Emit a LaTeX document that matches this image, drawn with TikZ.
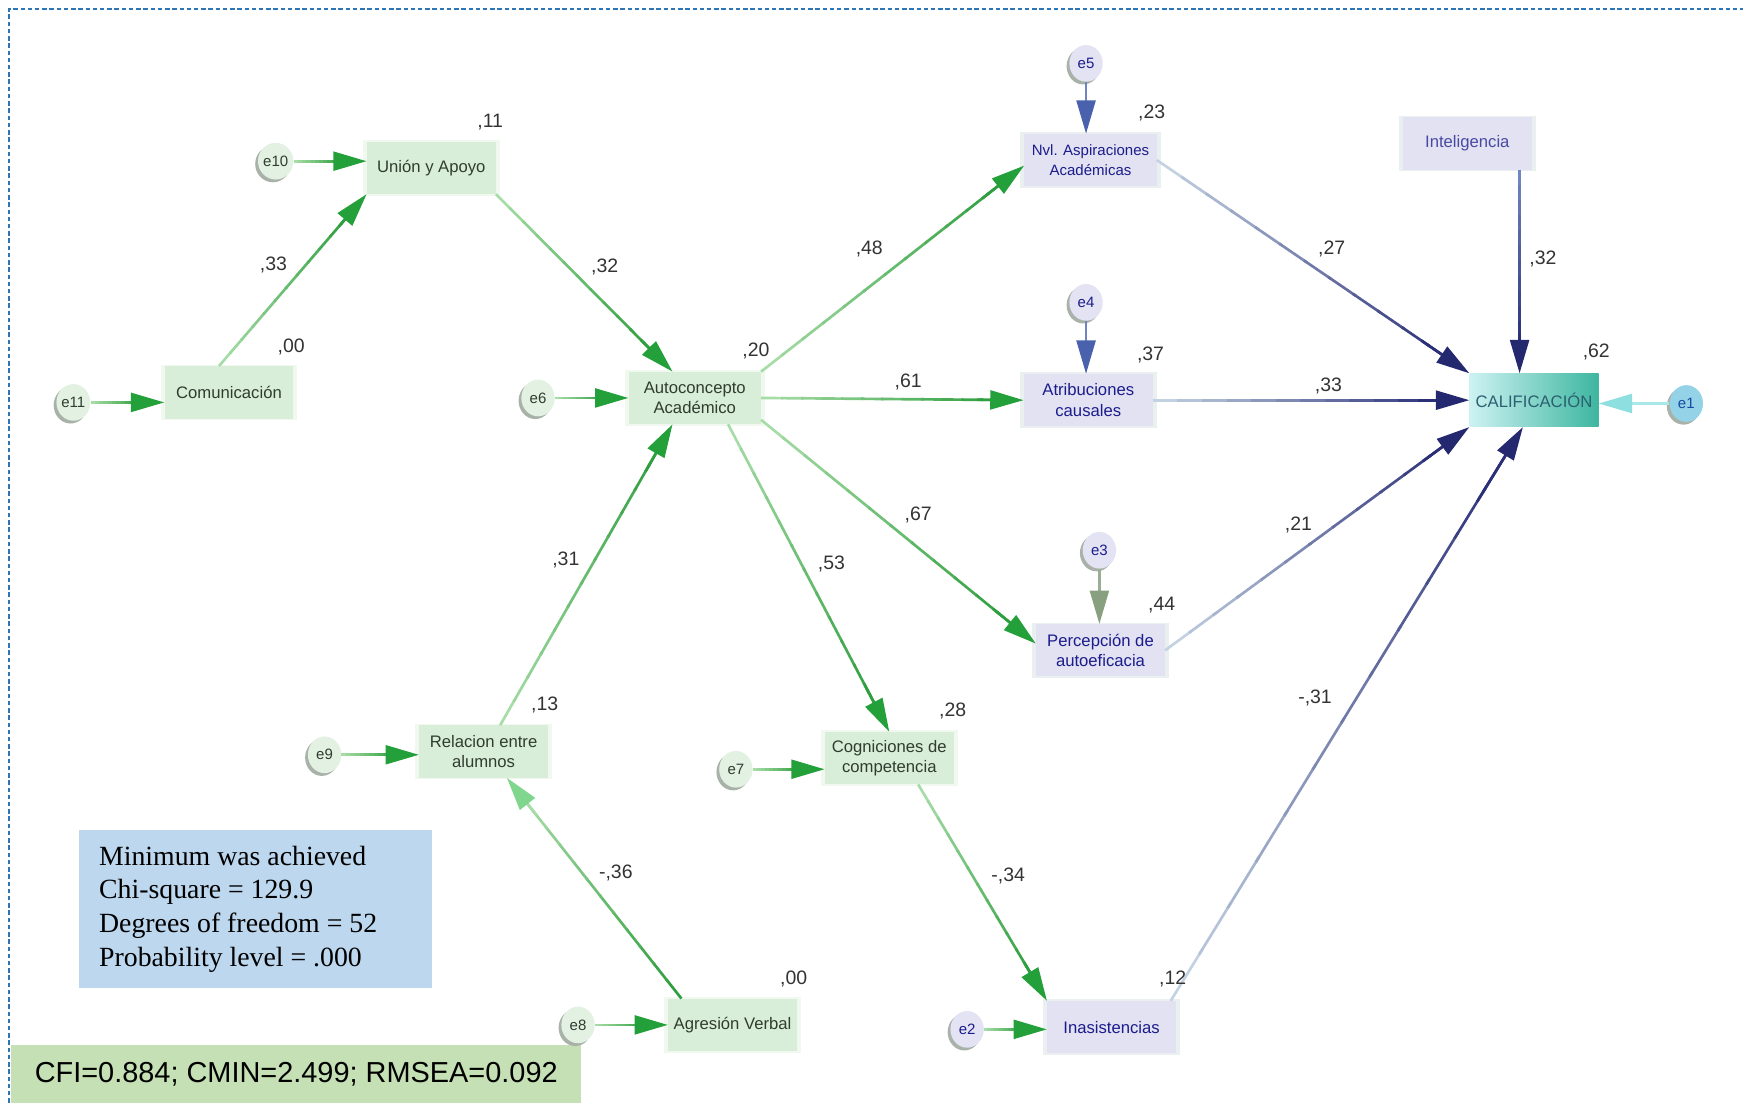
\documentclass[tikz,border=0pt]{standalone}
\usepackage{fontspec}
\setmainfont{Liberation Sans}
\newfontfamily\statfont{Liberation Serif}
\usetikzlibrary{arrows.meta,calc,shapes.geometric,shadows}

\definecolor{frameblue}{HTML}{2E75B6}
\definecolor{gfill}{HTML}{D9EED9}
\definecolor{gtext}{HTML}{2F3D2F}
\definecolor{bfill}{HTML}{E2E2F2}
\definecolor{btext}{HTML}{1C1C8C}
\definecolor{efillg}{HTML}{E2F1E2}
\definecolor{efillb}{HTML}{E3E3F3}
\definecolor{eshade}{HTML}{A9B2A9}
\definecolor{glight}{HTML}{A6DCA6}
\definecolor{gdark}{HTML}{2E9E3E}
\definecolor{gtip}{HTML}{23A03A}
\definecolor{gtiplight}{HTML}{7FD68C}
\definecolor{blight}{HTML}{C3D2E2}
\definecolor{bdark}{HTML}{2A2F78}
\definecolor{btip}{HTML}{24296F}
\definecolor{emblue}{HTML}{6F84C0}
\definecolor{emtip}{HTML}{4A62AE}
\definecolor{olive}{HTML}{9AAE96}
\definecolor{olivetip}{HTML}{88A080}
\definecolor{tealline}{HTML}{A9E8E8}
\definecolor{tealtip}{HTML}{8EDFE0}
\definecolor{efillt}{HTML}{94D2E8}
\definecolor{calleft}{HTML}{CDF2F2}
\definecolor{calright}{HTML}{3DB6A0}
\definecolor{caltext}{HTML}{2A6070}
\definecolor{statfill}{HTML}{BDD7EE}
\definecolor{fitfill}{HTML}{C5E0B4}
\definecolor{numtext}{HTML}{333333}

% graded connector: start point, end point, start colour, end colour, tip colour
\newcommand{\gradarrow}[5]{%
  \path #1 -- #2 coordinate[pos=0] (gs) coordinate[pos=1] (gt);
  \coordinate (ge) at ($(gt)!20pt!(gs)$);
  \foreach \k in {0,...,11}{
    \pgfmathsetmacro{\pa}{\k/12}
    \pgfmathsetmacro{\pb}{(\k+1)/12+0.01}
    \pgfmathtruncatemacro{\pc}{100*\k/11}
    \draw[line width=2.4, draw=#4!\pc!#3] ($(gs)!\pa!(ge)$) -- ($(gs)!\pb!(ge)$);
  }
  \draw[line width=2.4, draw=#4, -{Triangle[length=30,width=17,color=#5]}]
    ($(gs)!0.9!(ge)$) -- (gt);
}

\tikzset{
  boxfont/.style={font=\fontsize{15}{18.5}\selectfont},
  gbox/.style={rectangle, fill=gfill, text=gtext, minimum width=116, minimum height=47,
    inner sep=0, align=center, boxfont,
    general shadow={fill=gfill, opacity=0.4, shadow scale=1.06}},
  bbox/.style={gbox, fill=bfill, text=btext,
    general shadow={fill=bfill, opacity=0.4, shadow scale=1.06}},
  calbox/.style={rectangle, left color=calleft, right color=calright, text=caltext,
    minimum width=116, minimum height=48, inner sep=0, boxfont},
  errg/.style={ellipse, fill=efillg, text=gtext, minimum width=30, minimum height=33,
    inner sep=0, font=\fontsize{13.5}{13.5}\selectfont,
    general shadow={fill=eshade, shadow xshift=-2.5pt, shadow yshift=-2.5pt}},
  errb/.style={errg, fill=efillb, text=btext},
  num/.style={text=numtext, inner sep=0, font=\fontsize{17.5}{17.5}\selectfont},
}

\begin{document}
\begin{tikzpicture}[x=1pt, y=-1pt]
\useasboundingbox (0,0) rectangle (1568,992);

% frame
\draw[frameblue, line width=1.2, dash pattern=on 4pt off 2.5pt] (8,992) -- (8,8) -- (1568,8);

% fit summaries
\node[rectangle, fill=statfill, minimum width=318, minimum height=142, inner sep=0]
  (statbox) at (230,818) {};
\node[anchor=west, align=left, inner sep=0, font=\statfont\fontsize{25}{30.5}\selectfont]
  (stattext) at (89,818) {Minimum was achieved\\Chi-square = 129.9\\Degrees of freedom = 52\\Probability level = .000};
\node[rectangle, fill=fitfill, minimum width=513, minimum height=52, inner sep=0,
  font=\fontsize{26}{26}\selectfont] (fitbox) at (266.5,966) {CFI=0.884; CMIN=2.499; RMSEA=0.092};

% observed variables
\node[gbox] (comu)  at (206,353) {Comunicación};
\node[gbox] (union) at (388,151) {Unión y Apoyo};
\node[gbox, minimum width=119] (auto) at (625,358) {Autoconcepto\\Académico};
\node[gbox] (rel)   at (435,676) {Relacion entre\\alumnos};
\node[gbox] (cogn)  at (800,682) {Cogniciones de\\competencia};
\node[gbox] (agres) at (659,922) {Agresión Verbal};
\node[bbox, minimum width=119, font=\fontsize{13.5}{17.5}\selectfont] (nvl) at (981,144) {Nvl. Aspiraciones\\Académicas};
\node[bbox] (atrib) at (979,360) {Atribuciones\\causales};
\node[bbox] (perc)  at (990,585) {Percepción de\\autoeficacia};
\node[bbox] (inas)  at (1000,924) {Inasistencias};
\node[bbox, text=btext!80] (intel) at (1320,129) {Inteligencia};
\node[calbox] (calif) at (1380,360) {CALIFICACIÓN};

% residual terms
\node[errg] (e11) at (66,362) {e11};
\node[errg] (e10) at (248,145) {e10};
\node[errg] (e6)  at (484,358) {e6};
\node[errg] (e9)  at (292,679) {e9};
\node[errg] (e7)  at (662,692) {e7};
\node[errg] (e8)  at (520,922) {e8};
\node[errb] (e5)  at (977,57) {e5};
\node[errb] (e4)  at (977,272) {e4};
\node[errb] (e3)  at (989,495) {e3};
\node[errb] (e2)  at (870,926) {e2};
\node[errb, fill=efillt, text=btext!80!cyan] (e1) at (1517,363) {e1};

% residual paths
\gradarrow{(e11)}{(e11 -| comu.west)}{glight}{gdark}{gtip}
\gradarrow{(e10)}{(e10 -| union.west)}{glight}{gdark}{gtip}
\gradarrow{(e6)}{(e6 -| auto.west)}{glight}{gdark}{gtip}
\gradarrow{(e9)}{(e9 -| rel.west)}{glight}{gdark}{gtip}
\gradarrow{(e7)}{(e7 -| cogn.west)}{glight}{gdark}{gtip}
\gradarrow{(e8)}{(e8 -| agres.west)}{glight}{gdark}{gtip}
\gradarrow{(e2)}{(e2 -| inas.west)}{glight}{gdark}{gtip}
\gradarrow{(e5)}{(e5 |- nvl.north)}{emblue}{emblue}{emtip}
\gradarrow{(e4)}{(e4 |- atrib.north)}{emblue}{emblue}{emtip}
\gradarrow{(e3)}{(e3 |- perc.north)}{olive}{olive}{olivetip}
\gradarrow{(e1)}{(e1 -| calif.east)}{tealline}{tealline}{tealtip}

% structural paths
\gradarrow{([xshift=-9]comu.north)}{(union.south west)}{glight}{gdark}{gtip}
\gradarrow{(union.south east)}{([xshift=-20]auto.north)}{glight}{gdark}{gtip}
\gradarrow{([xshift=15]rel.north)}{([xshift=-20]auto.south)}{glight}{gdark}{gtip}
\gradarrow{(auto.north east)}{([yshift=-5]nvl.west)}{glight}{gdark}{gtip}
\gradarrow{(auto.east)}{(atrib.west)}{glight}{gdark}{gtip}
\gradarrow{([yshift=4]auto.south east)}{([yshift=6]perc.west)}{glight}{gdark}{gtip}
\gradarrow{([xshift=30]auto.south)}{(cogn.north)}{glight}{gdark}{gtip}
\gradarrow{([xshift=-46]agres.north)}{([xshift=21]rel.south)}{gdark}{glight}{gtiplight}
\gradarrow{([xshift=26]cogn.south)}{(inas.north west)}{glight}{gdark}{gtip}
\gradarrow{(nvl.east)}{(calif.north west)}{blight}{bdark}{btip}
\gradarrow{(atrib.east)}{(calif.west)}{blight}{bdark}{btip}
\gradarrow{(perc.east)}{(calif.south west)}{blight}{bdark}{btip}
\gradarrow{([xshift=-5]inas.north east)}{([xshift=-10]calif.south)}{blight}{bdark}{btip}
\gradarrow{([xshift=47]intel.south)}{([xshift=-13]calif.north)}{emblue}{bdark}{btip}

% coefficients and explained variances
\node[num] (r11)  at (441,110) {,11};
\node[num] (p33a) at (246,238) {,33};
\node[num] (r00a) at (262,312) {,00};
\node[num] (p32a) at (544,240) {,32};
\node[num] (r20)  at (680,316) {,20};
\node[num] (p48)  at (782,224) {,48};
\node[num] (p61)  at (817,344) {,61};
\node[num] (p67)  at (826,463) {,67};
\node[num] (p53)  at (748,507) {,53};
\node[num] (p31)  at (509,504) {,31};
\node[num] (r13)  at (490,634) {,13};
\node[num] (p36)  at (554,785) {-,36};
\node[num] (r28)  at (857,640) {,28};
\node[num] (p34)  at (907,788) {-,34};
\node[num] (r00b) at (714,881) {,00};
\node[num] (r12)  at (1055,881) {,12};
\node[num] (r23)  at (1036,102) {,23};
\node[num] (r37)  at (1035,319) {,37};
\node[num] (r44)  at (1045,544) {,44};
\node[num] (p27)  at (1198,224) {,27};
\node[num] (p32b) at (1388,233) {,32};
\node[num] (r62)  at (1436,317) {,62};
\node[num] (p33b) at (1195,347) {,33};
\node[num] (p21)  at (1168,472) {,21};
\node[num] (p31n) at (1183,628) {-,31};
\end{tikzpicture}
\end{document}
